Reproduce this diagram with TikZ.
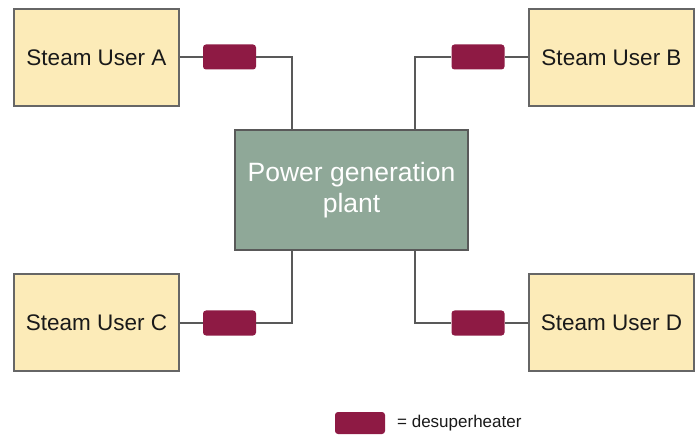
\documentclass[tikz,border=0pt]{standalone}
\usepackage{fontspec}
\setmainfont{Liberation Sans}
\begin{document}
\begin{tikzpicture}[x=1pt,y=-1pt,
  user/.style={draw=black!60,line width=1.6pt,fill=userfill,minimum width=165pt,minimum height=97pt,inner sep=0pt,font=\fontsize{22.5}{26}\selectfont,text=black!90},
  plant/.style={draw=black!65,line width=1.6pt,fill=plantfill,minimum width=233pt,minimum height=120pt,inner sep=0pt,font=\fontsize{26.5}{31}\selectfont,text=white,align=center},
  dsh/.style={fill=dshfill,rounded corners=3pt,minimum width=53pt,minimum height=25pt,inner sep=0pt},
  conn/.style={draw=black!65,line width=1.5pt}]
\definecolor{userfill}{HTML}{FCEBB8}
\definecolor{plantfill}{HTML}{8FA898}
\definecolor{dshfill}{HTML}{8E1A44}
\useasboundingbox (0,0) rectangle (698,435);
\node[user] (A) at (96.5,57.5) {Steam User A};
\node[user] (B) at (611.5,57.5) {Steam User B};
\node[user] (C) at (96.5,322.5) {Steam User C};
\node[user] (D) at (611.5,322.5) {Steam User D};
\node[plant] (P) at (351.5,190) {Power generation\\plant};
\node[dsh] (dA) at (229.5,57) {};
\node[dsh] (dB) at (478,57) {};
\node[dsh] (dC) at (229.5,323) {};
\node[dsh] (dD) at (478,323) {};
\coordinate (pa) at (292,130);
\coordinate (pb) at (415,130);
\coordinate (pc) at (292,250);
\coordinate (pd) at (415,250);
\draw[conn] (A.east |- dA) -- (dA.west);
\draw[conn] (dA.east) -| (pa);
\draw[conn] (B.west |- dB) -- (dB.east);
\draw[conn] (dB.west) -| (pb);
\draw[conn] (C.east |- dC) -- (dC.west);
\draw[conn] (dC.east) -| (pc);
\draw[conn] (D.west |- dD) -- (dD.east);
\draw[conn] (dD.west) -| (pd);
\node[dsh,minimum width=50pt,minimum height=22pt] (leg) at (360,423) {};
\node[anchor=west,inner sep=0pt,font=\fontsize{17}{20}\selectfont,text=black!90] (legt) at (397,423) {= desuperheater};
\end{tikzpicture}
\end{document}
